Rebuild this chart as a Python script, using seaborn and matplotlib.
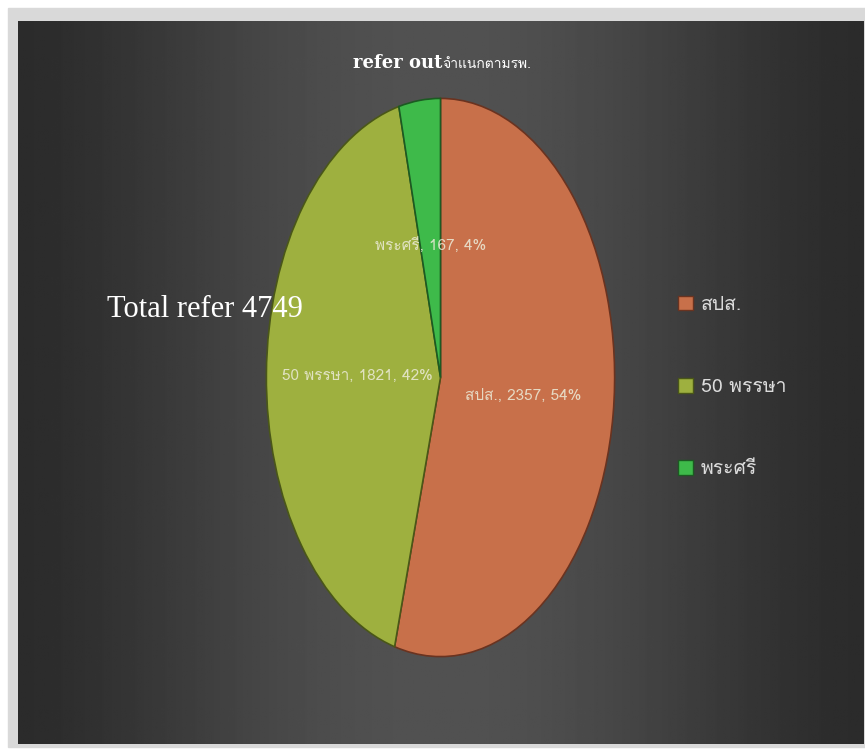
import numpy as np
import matplotlib
matplotlib.use("Agg")
import matplotlib.pyplot as plt
import seaborn as sns
from matplotlib import font_manager
from matplotlib.patches import Rectangle, Patch

hospitals = ["สปส.", "50 พรรษา", "พระศรี"]
referrals = [2357, 1821, 167]
total_refer = 4749
colors = ["#C8704A", "#9EB03F", "#3EBA4A"]
edge_colors = ["#6a3320", "#4a5718", "#1c5a22"]


def find_thai_font():
    # first installed family that has Thai glyphs
    try:
        from fontTools.ttLib import TTFont
    except ImportError:
        return None
    for f in font_manager.fontManager.ttflist:
        try:
            cmap = TTFont(f.fname, fontNumber=0, lazy=True).getBestCmap()
        except Exception:
            continue
        if cmap and 0x0E2A in cmap:
            return f.name
    return None


sns.set_theme(style="dark")
thai = find_thai_font()
families = [thai, "DejaVu Sans"] if thai else ["DejaVu Sans"]
plt.rcParams["font.family"] = families

W, H = 865, 751
fig = plt.figure(figsize=(W / 100, H / 100), dpi=100, facecolor="white")

# background panel with horizontal gradient
bg = fig.add_axes([0, 0, 1, 1])
bg.set_xlim(0, W)
bg.set_ylim(H, 0)
bg.axis("off")
bg.add_patch(Rectangle((8, 8), W - 8, H - 12, color="#d9d9d9", zorder=0))
xs = np.linspace(-1, 1, 400)
shade = 0.17 + 0.15 * np.cos(xs * np.pi / 2) ** 1.5
grad = np.tile(shade, (10, 1))
bg.imshow(grad, cmap="gray", vmin=0, vmax=1, extent=(18, 864, 744, 21),
          aspect="auto", zorder=1)

# pie drawn into a box the size of the ellipse
left, right, top, bottom = 265.5, 615.5, 97, 658
ax = fig.add_axes([left / W, 1 - bottom / H, (right - left) / W, (bottom - top) / H])
ax.patch.set_alpha(0)

pct = [round(100 * v / sum(referrals)) for v in referrals]
labels = [f"{h}, {v}, {p}%" for h, v, p in zip(hospitals, referrals, pct)]
wedges, texts = ax.pie(referrals, labels=labels, colors=colors, startangle=90,
                       counterclock=False, labeldistance=0.48,
                       wedgeprops=dict(linewidth=1.2))
for w, ec in zip(wedges, edge_colors):
    w.set_edgecolor(ec)
for t in texts:
    t.set_ha("center")
    t.set_va("center")
    t.set_color("#ecebd8")
    t.set_alpha(0.85)
    t.set_fontsize(11)
ax.set_aspect("auto")
ax.set_xlim(-1.005, 1.005)
ax.set_ylim(-1.005, 1.005)
ax.axis("off")

# title
fig.text(442 / W, 1 - 68 / H, "refer out", ha="right", va="baseline",
         fontsize=13, fontweight="bold", family="DejaVu Serif", color="white")
fig.text(442 / W, 1 - 68 / H, "จำแนกตามรพ.", ha="left", va="baseline",
         fontsize=10, color="white")

fig.text(107 / W, 1 - 317 / H, f"Total refer {total_refer}", ha="left",
         va="baseline", fontsize=22, family="Liberation Serif", color="white")

handles = [Patch(facecolor=c, edgecolor=e) for c, e in zip(colors, edge_colors)]
fig.legend(handles, hospitals, loc="upper left",
           bbox_to_anchor=(660 / W, 1 - 278 / H), frameon=False,
           fontsize=14, labelcolor="#dcdcdc", labelspacing=3.3,
           handlelength=0.8, handleheight=0.8, handletextpad=0.4)

fig.savefig("out.png", dpi=100, facecolor="white")
